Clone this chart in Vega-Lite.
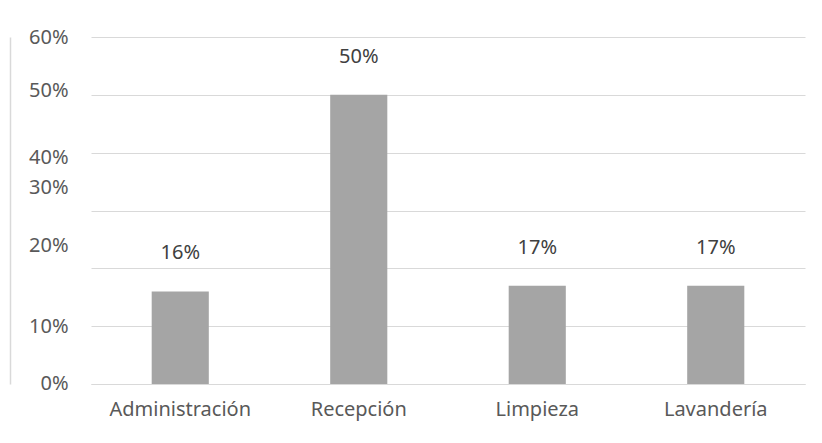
{
  "$schema": "https://vega.github.io/schema/vega-lite/v6.json",
  "width": 714,
  "height": 347,
  "autosize": {"type": "none"},
  "padding": {"left": 91, "top": 37, "right": 17, "bottom": 59},
  "background": "white",
  "config": {"view": {"stroke": null}, "font": "Noto Sans"},
  "data": {"values": [
    {"area": "Administración", "pct": 0.16},
    {"area": "Recepción", "pct": 0.50},
    {"area": "Limpieza", "pct": 0.17},
    {"area": "Lavandería", "pct": 0.17}
  ]},
  "encoding": {
    "x": {"field": "area", "type": "nominal", "sort": null,
      "scale": {"paddingInner": 0.68, "paddingOuter": 0.34},
      "axis": {"title": null, "labelAngle": 0, "ticks": false, "domain": true, "domainColor": "#d9d9d9",
        "labelFont": "Noto Sans", "labelFontSize": 20, "labelColor": "#595959", "labelPadding": 15}}
  },
  "resolve": {"axis": {"y": "independent"}},
  "layer": [
    {"mark": {"type": "bar", "color": "#a5a5a5"},
      "encoding": {
        "y": {"field": "pct", "type": "quantitative",
          "scale": {"domain": [0, 0.6], "nice": false},
          "axis": {"title": null, "ticks": false, "domain": false,
            "values": [0, 0.1, 0.2, 0.3, 0.4, 0.5, 0.6, 0.0017, 0.0986, 0.24, 0.339, 0.391, 0.508, 0.5995],
            "labelOverlap": false, "labelBound": false, "labelFlush": false,
            "labelExpr": "abs(datum.value*10 - round(datum.value*10)) < 0.0001 ? '' : (datum.value > 0.55 ? '60%' : datum.value > 0.45 ? '50%' : datum.value > 0.37 ? '40%' : datum.value > 0.3 ? '30%' : datum.value > 0.2 ? '20%' : datum.value > 0.05 ? '10%' : '0%')",
            "grid": true, "gridColor": "#d9d9d9", "gridWidth": 1,
            "gridOpacity": {"condition": {"test": "abs(datum.value*10 - round(datum.value*10)) < 0.0001", "value": 1}, "value": 0},
            "labelFont": "Noto Sans", "labelFontSize": 20, "labelColor": "#595959", "labelPadding": 23}}}},
    {"mark": {"type": "text", "dy": -38, "baseline": "middle", "font": "Noto Sans", "fontSize": 20, "color": "#404040"},
      "encoding": {
        "y": {"field": "pct", "type": "quantitative", "axis": {"orient": "left", "title": null, "labels": false, "ticks": false, "grid": false, "domain": true, "domainColor": "#d9d9d9", "domainWidth": 1.5, "offset": 81}},
        "text": {"field": "pct", "type": "quantitative", "format": ".0%"}}}
  ]
}
